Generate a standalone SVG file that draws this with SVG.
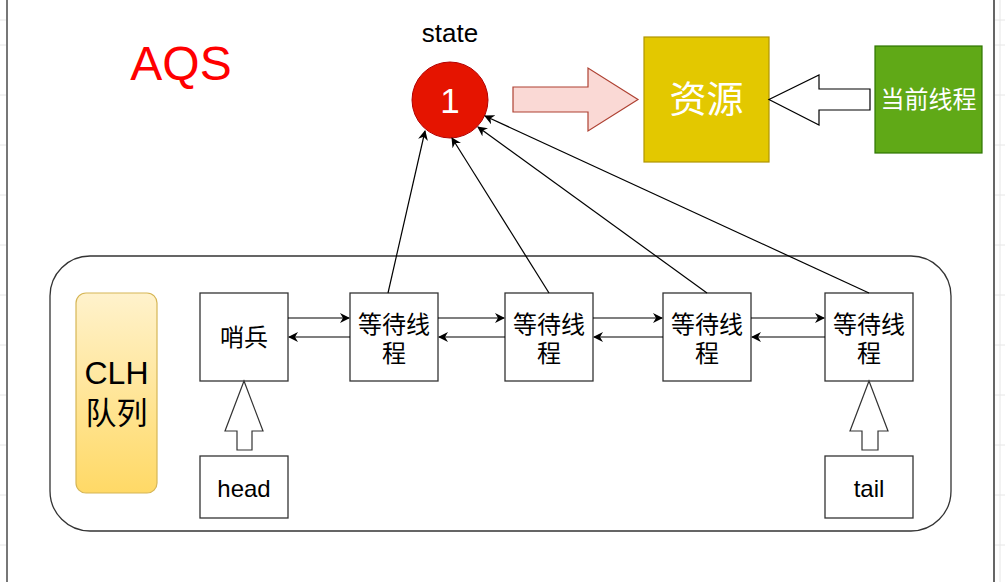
<svg xmlns="http://www.w3.org/2000/svg" width="1005" height="582" viewBox="0 0 1005 582">
<style>
.lat{font-family:"Liberation Sans","Noto Sans CJK SC",sans-serif}
.cjk{font-family:"Liberation Sans","Noto Sans CJK SC",sans-serif}
.box{fill:#fff;stroke:#333;stroke-width:1.3}
.con{fill:none;stroke:#000;stroke-width:1.2}
</style>
<defs>
<marker id="ah" viewBox="0 0 10 10" refX="9" refY="5" markerWidth="10" markerHeight="10" markerUnits="userSpaceOnUse" orient="auto">
<path d="M0,0 L10,5 L0,10 L3,5 Z" fill="#000"/>
</marker>
<linearGradient id="gy" x1="0" y1="0" x2="0" y2="1">
<stop offset="0" stop-color="#fff2cc"/>
<stop offset="1" stop-color="#ffd966"/>
</linearGradient>
</defs>
<rect x="0" y="0" width="1005" height="582" fill="#fff"/>
<g id="edges" stroke="#e6e6e6" stroke-width="1">
<path d="M0,20H7M0,45H7M0,95H7M0,145H7M0,195H7M0,245H7M0,295H7M0,345H7M0,395H7M0,445H7M0,495H7M0,545H7"/>
<path d="M995,20H1005M995,45H1005M995,95H1005M995,145H1005M995,195H1005M995,245H1005M995,295H1005M995,345H1005M995,395H1005M995,445H1005M995,495H1005M995,545H1005"/>
<line x1="1000" y1="0" x2="1000" y2="582"/>
</g>
<line x1="7" y1="0" x2="7" y2="582" stroke="#777" stroke-width="2"/>
<line x1="994" y1="0" x2="994" y2="582" stroke="#333" stroke-width="1.5"/>

<g id="aqs"><text x="181" y="80" font-size="48" fill="#ff0000" text-anchor="middle" class="lat">AQS</text></g>
<g id="state-label"><text x="450" y="42" font-size="26" fill="#000" text-anchor="middle" class="lat">state</text></g>
<g id="state">
<circle cx="450" cy="100" r="38" fill="#e51400" stroke="#b20000" stroke-width="1"/>
<text x="450" y="113" font-size="35" fill="#fff" text-anchor="middle" class="lat">1</text>
</g>
<g id="pink-arrow"><path d="M513,87 H588 V68 L638,99.5 L588,131 V112 H513 Z" fill="#fad9d5" stroke="#ae4132" stroke-width="1.2"/></g>
<g id="resource">
<rect x="644" y="37" width="125" height="125" fill="#e3c800" stroke="#b09500" stroke-width="1.2"/>
<text x="706.5" y="113" font-size="37" fill="#fff" text-anchor="middle" class="cjk">资源</text>
</g>
<g id="white-arrow"><path d="M870,89 H819 V75 L769,99.5 L819,125 V110 H870 Z" fill="#fff" stroke="#000" stroke-width="1.2"/></g>
<g id="current-thread">
<rect x="875" y="46" width="107" height="107" fill="#60a917" stroke="#2d7600" stroke-width="1.2"/>
<text x="928.5" y="108" font-size="24" fill="#fff" text-anchor="middle" class="cjk">当前线程</text>
</g>

<g id="container"><rect x="50" y="256" width="901" height="275" rx="40" ry="40" fill="#fff" stroke="#333" stroke-width="1.3"/></g>
<g id="clh">
<rect x="76" y="293" width="81" height="200" rx="10" ry="10" fill="url(#gy)" stroke="#d6b656" stroke-width="1.2"/>
<text x="116.5" y="384" font-size="32" fill="#000" text-anchor="middle" class="lat">CLH</text>
<text x="116.5" y="424" font-size="31" fill="#000" text-anchor="middle" class="cjk">队列</text>
</g>
<g id="sentinel">
<rect class="box" x="200" y="293" width="88" height="88"/>
<text x="244" y="346" font-size="24" text-anchor="middle" class="cjk">哨兵</text>
</g>
<g id="wait1">
<rect class="box" x="350" y="293" width="88" height="88"/>
<text x="394" y="333" font-size="24" text-anchor="middle" class="cjk">等待线</text>
<text x="394" y="362" font-size="24" text-anchor="middle" class="cjk">程</text>
</g>
<g id="wait2">
<rect class="box" x="505" y="293" width="88" height="88"/>
<text x="549" y="333" font-size="24" text-anchor="middle" class="cjk">等待线</text>
<text x="549" y="362" font-size="24" text-anchor="middle" class="cjk">程</text>
</g>
<g id="wait3">
<rect class="box" x="663" y="293" width="88" height="88"/>
<text x="707" y="333" font-size="24" text-anchor="middle" class="cjk">等待线</text>
<text x="707" y="362" font-size="24" text-anchor="middle" class="cjk">程</text>
</g>
<g id="wait4">
<rect class="box" x="825" y="293" width="88" height="88"/>
<text x="869" y="333" font-size="24" text-anchor="middle" class="cjk">等待线</text>
<text x="869" y="362" font-size="24" text-anchor="middle" class="cjk">程</text>
</g>
<g id="head">
<rect class="box" x="200" y="456" width="88" height="62"/>
<text x="244" y="497" font-size="24" text-anchor="middle" class="lat">head</text>
</g>
<g id="tail">
<rect class="box" x="825" y="456" width="88" height="62"/>
<text x="869" y="497" font-size="24" text-anchor="middle" class="lat">tail</text>
</g>
<g id="head-arrow"><path d="M237,450 V431 H225 L244,381 L263,431 H252 V450 Z" fill="#fff" stroke="#333" stroke-width="1.2"/></g>
<g id="tail-arrow"><path d="M862,450 V431 H850 L869,381 L888,431 H878 V450 Z" fill="#fff" stroke="#333" stroke-width="1.2"/></g>

<g id="connectors">
<line class="con" x1="288" y1="318" x2="349" y2="318" marker-end="url(#ah)"/>
<line class="con" x1="350" y1="337" x2="289" y2="337" marker-end="url(#ah)"/>
<line class="con" x1="438" y1="318" x2="504" y2="318" marker-end="url(#ah)"/>
<line class="con" x1="505" y1="337" x2="439" y2="337" marker-end="url(#ah)"/>
<line class="con" x1="593" y1="318" x2="662" y2="318" marker-end="url(#ah)"/>
<line class="con" x1="663" y1="337" x2="594" y2="337" marker-end="url(#ah)"/>
<line class="con" x1="751" y1="318" x2="824" y2="318" marker-end="url(#ah)"/>
<line class="con" x1="825" y1="337" x2="752" y2="337" marker-end="url(#ah)"/>
<line class="con" x1="388" y1="293" x2="425" y2="131" marker-end="url(#ah)"/>
<line class="con" x1="549" y1="293" x2="452" y2="138" marker-end="url(#ah)"/>
<line class="con" x1="707" y1="293" x2="478" y2="127" marker-end="url(#ah)"/>
<line class="con" x1="869" y1="293" x2="485" y2="116" marker-end="url(#ah)"/>
</g>
</svg>
